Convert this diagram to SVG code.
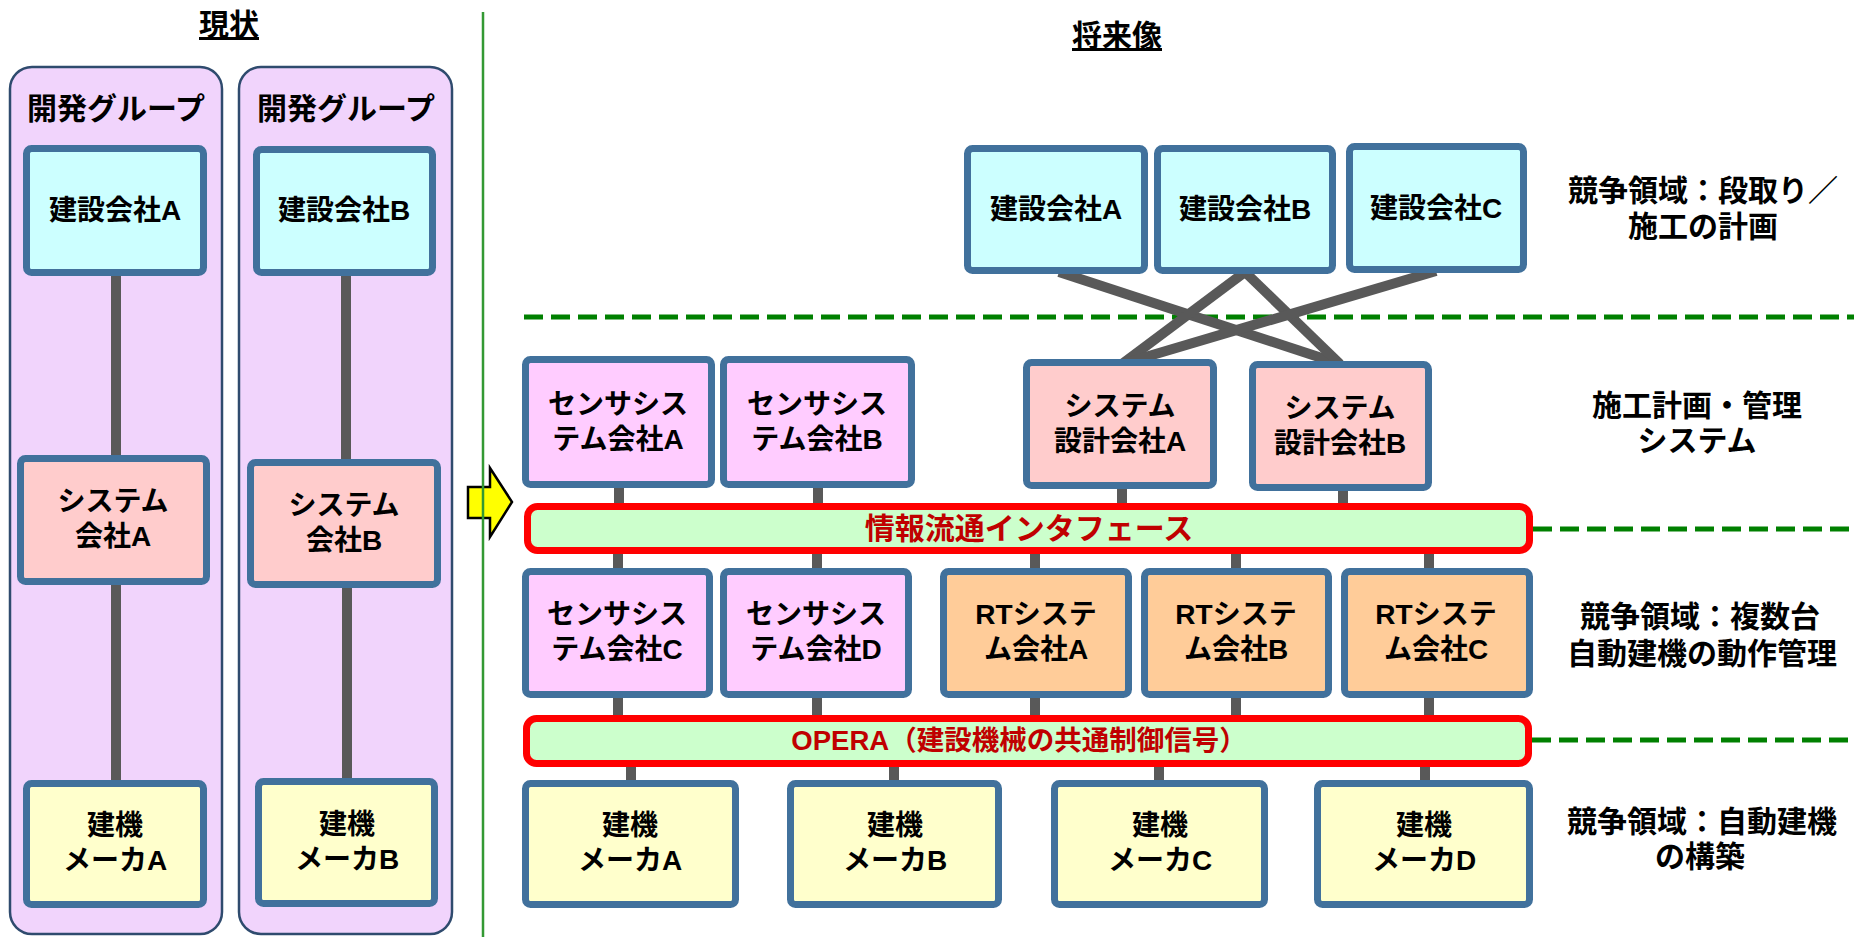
<svg xmlns="http://www.w3.org/2000/svg" width="1854" height="937" viewBox="0 0 1854 937">
<style>
text{font-family:"Liberation Sans","Noto Sans CJK JP","Noto Sans",sans-serif;font-weight:700;fill:#000;text-anchor:middle}
.t28{font-size:28px}
.t30{font-size:30px}
.ttl{font-size:30px;text-decoration:underline}
.bx{stroke:#41719C;stroke-width:7}
.cst{fill:#CCFFFF}
.sys{fill:#FFCCCC}
.sen{fill:#FFCCFF}
.rt{fill:#FFCC99}
.mak{fill:#FFFFCC}
.bar{fill:#CCFFCC;stroke:#FF0000;stroke-width:7}
.bart{fill:#C00000}
.panel{fill:#F1D4FC;stroke:#2F4B6E;stroke-width:2.5}
.cn{stroke:#595959;stroke-width:10;fill:none}
.dash{stroke:#008000;stroke-width:5;stroke-dasharray:19 8;fill:none}
</style>

<!-- Titles -->
<text class="ttl" x="229" y="35">現状</text>
<text class="ttl" x="1117" y="46">将来像</text>

<!-- Panels -->
<g id="panel1">
<rect class="panel" x="10" y="67" width="212" height="867" rx="22"/>
<text class="t30" x="116" y="119">開発グループ</text>
</g>
<g id="panel2">
<rect class="panel" x="239" y="67" width="213" height="867" rx="22"/>
<text class="t30" x="346" y="119">開発グループ</text>
</g>

<!-- Arrow and divider -->
<g id="arrow">
<polygon points="468,487 490,487 490,468 512,502 490,537 490,518 468,518" fill="#FFFF00" stroke="#000" stroke-width="2.5" stroke-linejoin="miter"/>
</g>
<line x1="483" y1="12" x2="483" y2="937" stroke="#339933" stroke-width="2.5"/>

<!-- Dashed separators -->
<g id="separators">
<line class="dash" x1="524" y1="317" x2="1854" y2="317"/>
<line class="dash" x1="1533" y1="529" x2="1854" y2="529"/>
<line class="dash" x1="1532" y1="740" x2="1854" y2="740"/>
</g>

<!-- Connectors -->
<g id="connectors">
<line class="cn" x1="116" y1="272" x2="116" y2="460"/>
<line class="cn" x1="116" y1="580" x2="116" y2="785"/>
<line class="cn" x1="346" y1="272" x2="346" y2="464"/>
<line class="cn" x1="347" y1="584" x2="347" y2="783"/>
<line class="cn" x1="1059" y1="272" x2="1340" y2="364"/>
<line class="cn" x1="1245" y1="272" x2="1122" y2="364"/>
<line class="cn" x1="1245" y1="272" x2="1340" y2="364"/>
<line class="cn" x1="1436" y1="271" x2="1122" y2="364"/>
<line class="cn" x1="619" y1="485" x2="619" y2="507"/>
<line class="cn" x1="818" y1="485" x2="818" y2="507"/>
<line class="cn" x1="1122" y1="486" x2="1122" y2="507"/>
<line class="cn" x1="1343" y1="488" x2="1343" y2="507"/>
<line class="cn" x1="618" y1="550" x2="618" y2="572"/>
<line class="cn" x1="817" y1="550" x2="817" y2="572"/>
<line class="cn" x1="1035" y1="550" x2="1035" y2="572"/>
<line class="cn" x1="1236" y1="550" x2="1236" y2="572"/>
<line class="cn" x1="1429" y1="550" x2="1429" y2="572"/>
<line class="cn" x1="618" y1="695" x2="618" y2="719"/>
<line class="cn" x1="817" y1="695" x2="817" y2="719"/>
<line class="cn" x1="1035" y1="695" x2="1035" y2="719"/>
<line class="cn" x1="1236" y1="695" x2="1236" y2="719"/>
<line class="cn" x1="1429" y1="695" x2="1429" y2="719"/>
<line class="cn" x1="631" y1="763" x2="631" y2="784"/>
<line class="cn" x1="894" y1="763" x2="894" y2="784"/>
<line class="cn" x1="1159" y1="763" x2="1159" y2="784"/>
<line class="cn" x1="1425" y1="763" x2="1425" y2="784"/>
</g>

<!-- Left nodes -->
<g id="cur-const-a"><rect class="bx cst" x="26.5" y="148.5" width="177" height="124" rx="5"/><text class="t28" x="115" y="220">建設会社A</text></g>
<g id="cur-const-b"><rect class="bx cst" x="256.5" y="149.5" width="176" height="123" rx="5"/><text class="t28" x="344" y="220">建設会社B</text></g>
<g id="cur-sys-a"><rect class="bx sys" x="20.5" y="458.5" width="186" height="123" rx="5"/><text class="t28"><tspan x="113" y="511">システム</tspan><tspan x="113" y="546">会社A</tspan></text></g>
<g id="cur-sys-b"><rect class="bx sys" x="250.5" y="462.5" width="187" height="122" rx="5"/><text class="t28"><tspan x="344" y="515">システム</tspan><tspan x="344" y="550">会社B</tspan></text></g>
<g id="cur-mak-a"><rect class="bx mak" x="26.5" y="783.5" width="177" height="121" rx="5"/><text class="t28"><tspan x="115" y="835">建機</tspan><tspan x="115" y="870">メーカA</tspan></text></g>
<g id="cur-mak-b"><rect class="bx mak" x="258.5" y="781.5" width="176" height="122" rx="5"/><text class="t28"><tspan x="347" y="834">建機</tspan><tspan x="347" y="869">メーカB</tspan></text></g>

<!-- Right nodes: construction companies -->
<g id="fut-const-a"><rect class="bx cst" x="967.5" y="148.5" width="177" height="122" rx="5"/><text class="t28" x="1056" y="219">建設会社A</text></g>
<g id="fut-const-b"><rect class="bx cst" x="1157.5" y="148.5" width="175" height="122" rx="5"/><text class="t28" x="1245" y="219">建設会社B</text></g>
<g id="fut-const-c"><rect class="bx cst" x="1349.5" y="146.5" width="174" height="123" rx="5"/><text class="t28" x="1436" y="218">建設会社C</text></g>

<!-- Row 1 -->
<g id="sensor-a"><rect class="bx sen" x="525.5" y="359.5" width="186" height="125" rx="5"/><text class="t28"><tspan x="618" y="414">センサシス</tspan><tspan x="618" y="449">テム会社A</tspan></text></g>
<g id="sensor-b"><rect class="bx sen" x="723.5" y="359.5" width="188" height="125" rx="5"/><text class="t28"><tspan x="817" y="414">センサシス</tspan><tspan x="817" y="449">テム会社B</tspan></text></g>
<g id="design-a"><rect class="bx sys" x="1026.5" y="362.5" width="187" height="123" rx="5"/><text class="t28"><tspan x="1120" y="416">システム</tspan><tspan x="1120" y="451">設計会社A</tspan></text></g>
<g id="design-b"><rect class="bx sys" x="1252.5" y="364.5" width="176" height="123" rx="5"/><text class="t28"><tspan x="1340" y="418">システム</tspan><tspan x="1340" y="453">設計会社B</tspan></text></g>

<!-- Bar 1 -->
<g id="info-interface"><rect class="bar" x="527.5" y="506.5" width="1002" height="44" rx="10"/><text class="t30 bart" x="1029" y="539">情報流通インタフェース</text></g>

<!-- Row 2 -->
<g id="sensor-c"><rect class="bx sen" x="525.5" y="571.5" width="184" height="123" rx="5"/><text class="t28"><tspan x="617" y="624">センサシス</tspan><tspan x="617" y="659">テム会社C</tspan></text></g>
<g id="sensor-d"><rect class="bx sen" x="723.5" y="571.5" width="185" height="123" rx="5"/><text class="t28"><tspan x="816" y="624">センサシス</tspan><tspan x="816" y="659">テム会社D</tspan></text></g>
<g id="rt-a"><rect class="bx rt" x="943.5" y="571.5" width="185" height="123" rx="5"/><text class="t28"><tspan x="1036" y="624">RTシステ</tspan><tspan x="1036" y="659">ム会社A</tspan></text></g>
<g id="rt-b"><rect class="bx rt" x="1144.5" y="571.5" width="184" height="123" rx="5"/><text class="t28"><tspan x="1236" y="624">RTシステ</tspan><tspan x="1236" y="659">ム会社B</tspan></text></g>
<g id="rt-c"><rect class="bx rt" x="1344.5" y="571.5" width="185" height="123" rx="5"/><text class="t28"><tspan x="1436" y="624">RTシステ</tspan><tspan x="1436" y="659">ム会社C</tspan></text></g>

<!-- Bar 2 -->
<g id="opera"><rect class="bar" x="526.5" y="718.5" width="1002" height="45" rx="10"/><text class="bart" style="font-size:27.5px" x="1019" y="750">OPERA（建設機械の共通制御信号）</text></g>

<!-- Row 3 -->
<g id="maker-a"><rect class="bx mak" x="525.5" y="783.5" width="210" height="121" rx="5"/><text class="t28"><tspan x="630" y="835">建機</tspan><tspan x="630" y="870">メーカA</tspan></text></g>
<g id="maker-b"><rect class="bx mak" x="790.5" y="783.5" width="208" height="121" rx="5"/><text class="t28"><tspan x="895" y="835">建機</tspan><tspan x="895" y="870">メーカB</tspan></text></g>
<g id="maker-c"><rect class="bx mak" x="1054.5" y="783.5" width="210" height="121" rx="5"/><text class="t28"><tspan x="1160" y="835">建機</tspan><tspan x="1160" y="870">メーカC</tspan></text></g>
<g id="maker-d"><rect class="bx mak" x="1317.5" y="783.5" width="212" height="121" rx="5"/><text class="t28"><tspan x="1424" y="835">建機</tspan><tspan x="1424" y="870">メーカD</tspan></text></g>

<!-- Right labels -->
<g id="labels">
<text class="t30"><tspan x="1703" y="201">競争領域：段取り／</tspan><tspan x="1703" y="237">施工の計画</tspan></text>
<text class="t30"><tspan x="1697" y="416">施工計画・管理</tspan><tspan x="1697" y="451">システム</tspan></text>
<text class="t30"><tspan x="1700" y="627">競争領域：複数台</tspan><tspan x="1702" y="664">自動建機の動作管理</tspan></text>
<text class="t30"><tspan x="1702" y="832">競争領域：自動建機</tspan><tspan x="1700" y="867">の構築</tspan></text>
</g>
</svg>
